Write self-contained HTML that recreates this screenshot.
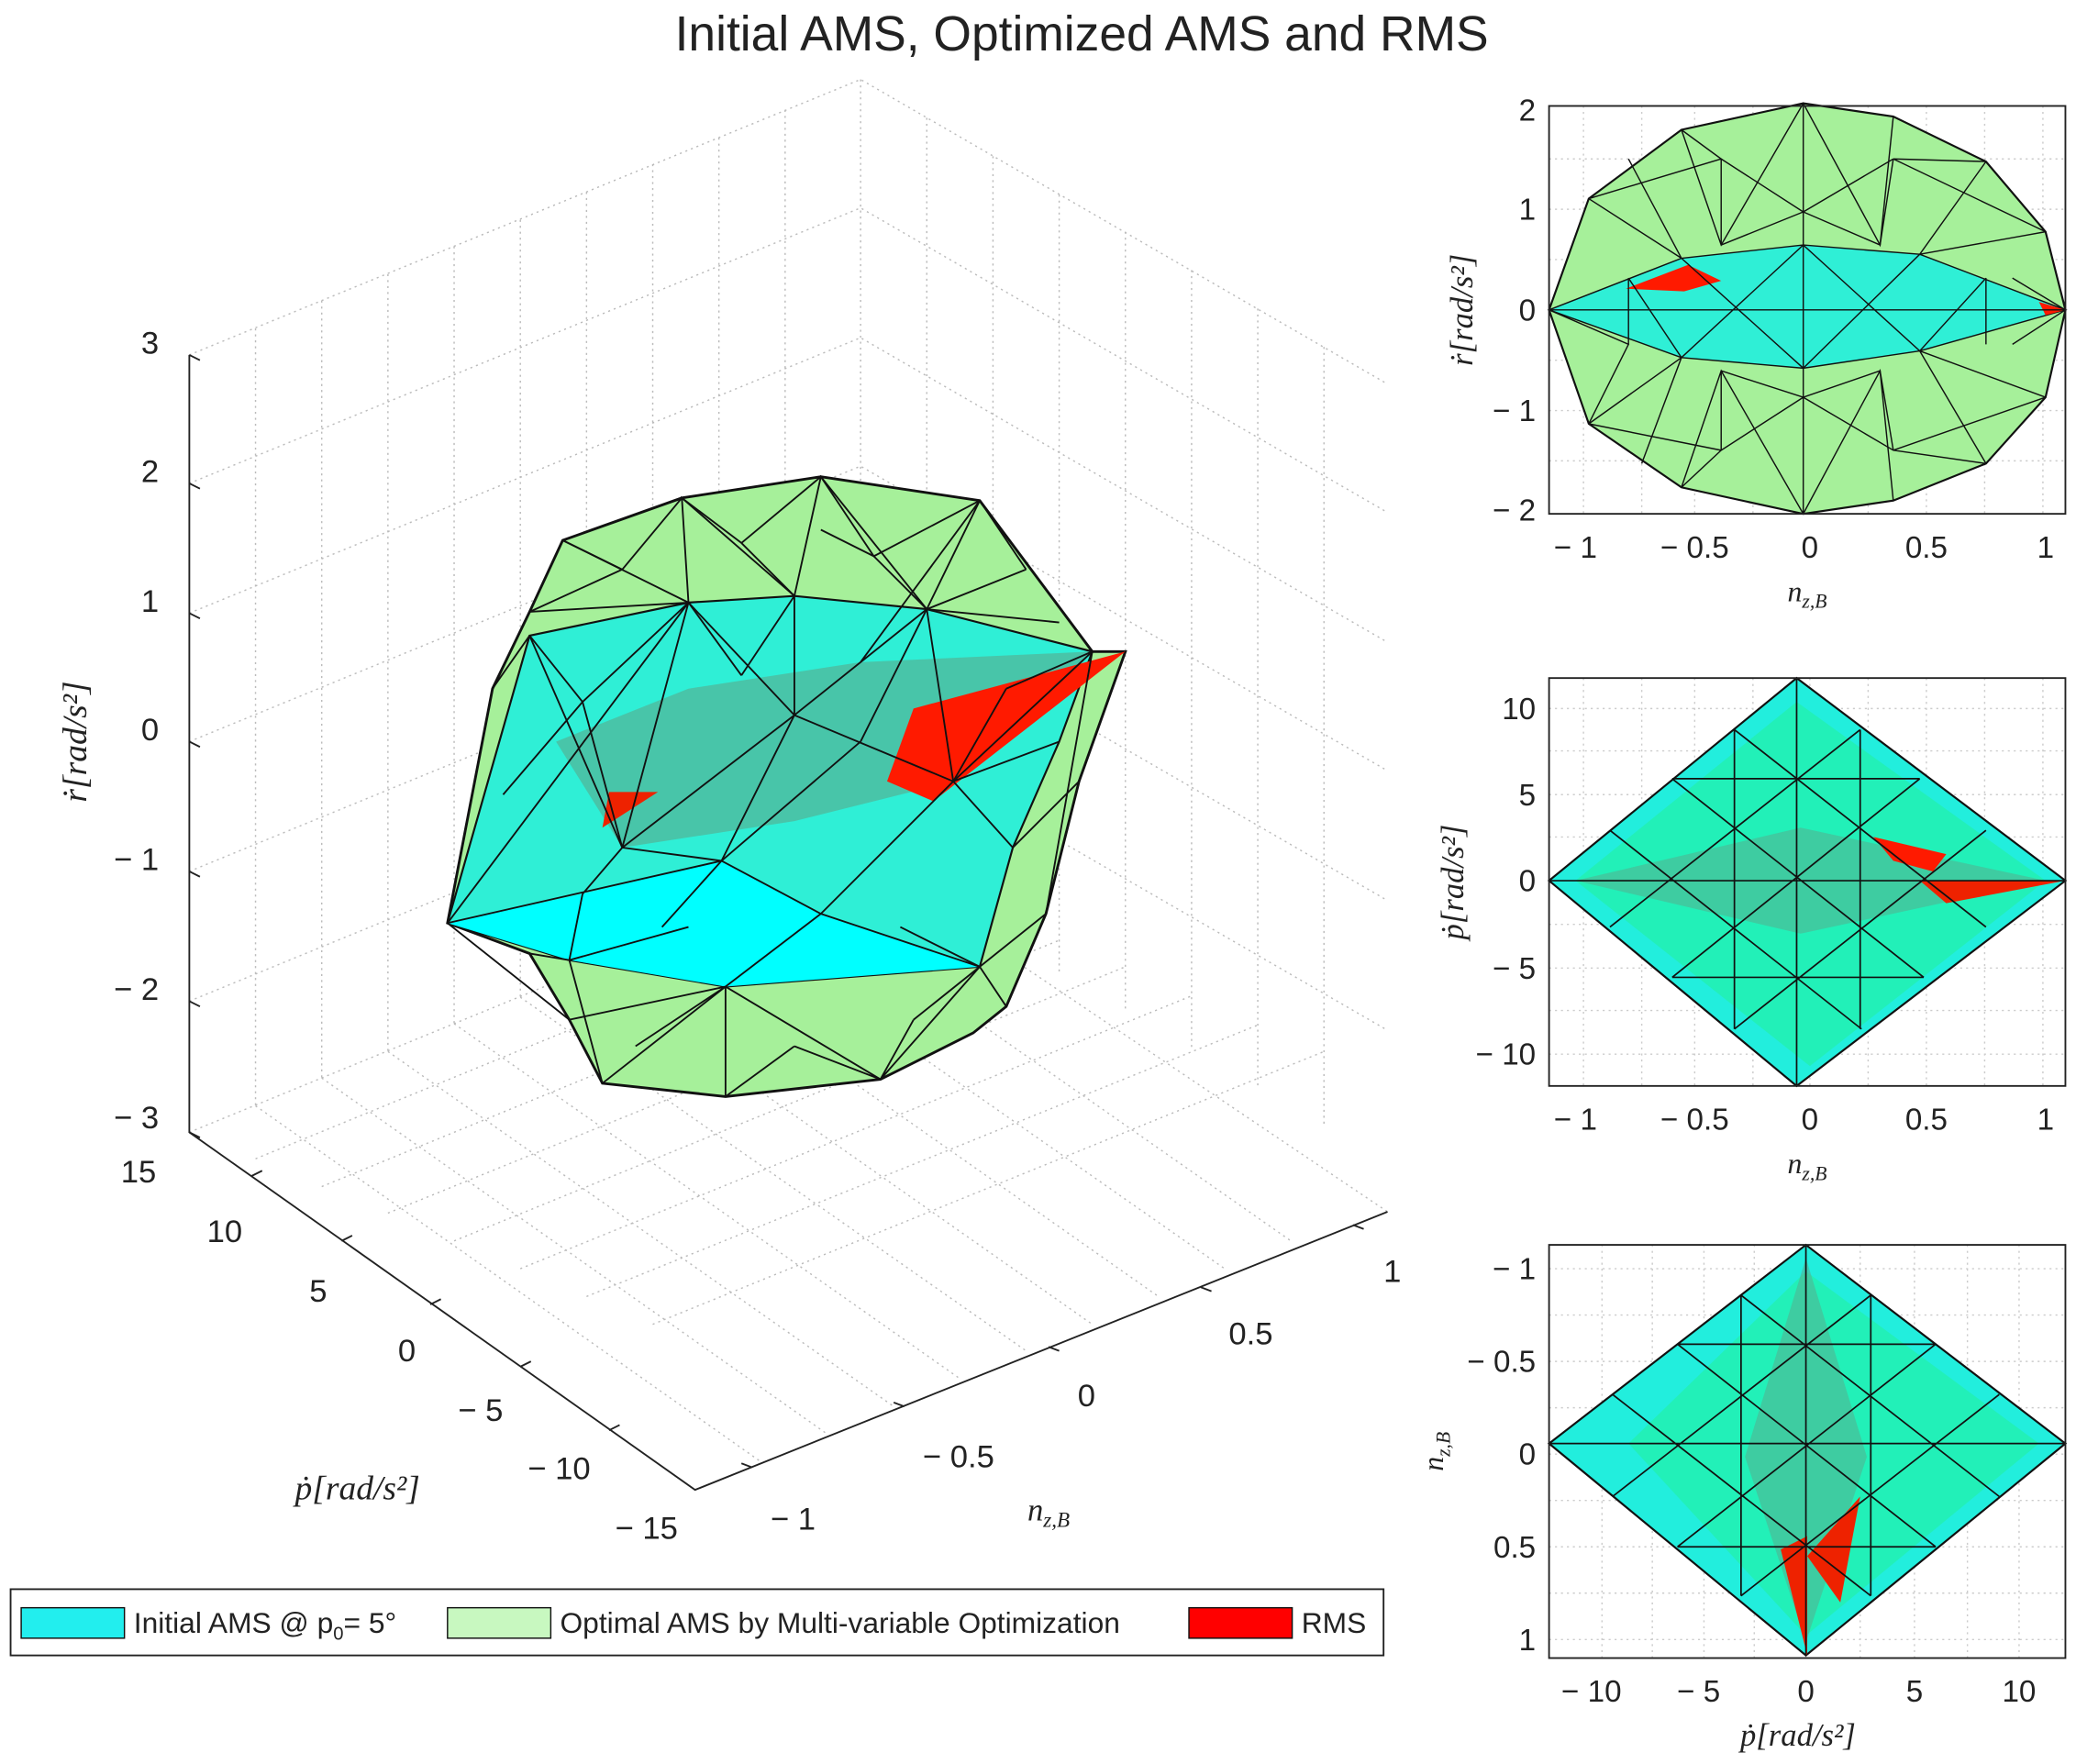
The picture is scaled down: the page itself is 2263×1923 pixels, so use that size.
<!DOCTYPE html>
<html><head><meta charset="utf-8"><style>
html,body{margin:0;padding:0;background:#fff}
svg{display:block}
text{font-family:"Liberation Sans",sans-serif;fill:#222}
.it{font-family:"Liberation Serif",serif;font-style:italic}
</style></head><body>
<svg width="2263" height="1923" viewBox="0 0 1568 1332" preserveAspectRatio="none" xmlns="http://www.w3.org/2000/svg">
<rect width="1568" height="1332" fill="#fff"/>
<text x="817" y="38" font-size="37" text-anchor="middle">Initial AMS, Optimized AMS and RMS</text>

<g stroke="#bbb" stroke-width="1" stroke-dasharray="1.5,3" fill="none">
<path d="M143,268 L650,60 L1048,290"/>
<path d="M650,60 L650,647"/>
<path d="M143,855 L650,647 L1048,915"/>
<path d="M143,365 L650,157 L1048,387 M143,463 L650,255 L1048,485 M143,560 L650,352 L1048,582 M143,658 L650,450 L1048,680 M143,756 L650,548 L1048,778"/>
<path d="M193,248 L193,835 M243,227 L243,814 M293,207 L293,794 M343,186 L343,773 M393,166 L393,753 M443,145 L443,732 M493,124 L493,711 M543,104 L543,691 M593,83 L593,670"/>
<path d="M700,89 L700,676 M750,118 L750,705 M800,147 L800,734 M850,175 L850,762 M900,204 L900,791 M950,233 L950,820 M1000,262 L1000,849"/>
<path d="M193,875 L700,667 M243,896 L750,688 M293,916 L800,710 M343,937 L850,730 M393,958 L900,752 M443,979 L950,774 M493,1000 L1000,794"/>
<path d="M193,835 L575,1104 M243,814 L625,1083 M293,794 L675,1062 M343,773 L725,1041 M393,753 L775,1020 M443,732 L825,1000 M493,711 L875,979 M543,691 L925,958 M593,670 L975,937"/>
</g>
<g stroke="#222" stroke-width="1.3" fill="none">
<path d="M143,268 L143,855 L525,1125 L1048,915"/>
<path d="M143,268 l8,4 M143,365 l8,4 M143,463 l8,4 M143,560 l8,4 M143,658 l8,4 M143,756 l8,4 M143,855 l8,4"/>
<path d="M190,888 l8,-4 M258,937 l8,-4 M325,985 l8,-4 M393,1032 l8,-4 M460,1080 l8,-4"/>
<path d="M568,1108 l-8,-3 M683,1062 l-8,-3 M800,1020 l-8,-3 M915,975 l-8,-3 M1030,928 l-8,-3"/>
</g>
<g font-size="24" text-anchor="end">
<text x="120" y="267">3</text><text x="120" y="364">2</text><text x="120" y="462">1</text><text x="120" y="559">0</text>
<text x="120" y="657">− 1</text><text x="120" y="755">− 2</text><text x="120" y="852">− 3</text>
<text x="118" y="893">15</text><text x="183" y="938">10</text><text x="247" y="983">5</text><text x="314" y="1028">0</text>
<text x="380" y="1073">− 5</text><text x="446" y="1117">− 10</text><text x="512" y="1162">− 15</text>
</g>
<g font-size="24">
<text x="582" y="1155">− 1</text><text x="697" y="1108">− 0.5</text><text x="814" y="1062">0</text><text x="928" y="1015">0.5</text><text x="1045" y="968">1</text>
</g>
<text class="it" x="65" y="560" font-size="26" transform="rotate(-90 65 560)" text-anchor="middle">ṙ[rad/s²]</text>
<text class="it" x="270" y="1132" font-size="26" text-anchor="middle">ṗ[rad/s²]</text>
<text class="it" x="792" y="1148" font-size="24" text-anchor="middle">n<tspan font-size="16" dy="5">z,B</tspan></text>

<polygon points="338,697 372,520 400,462 425,408 515,376 620,360 740,378 825,492 850,492 815,590 790,690 760,760 735,780 665,815 548,828 455,818 430,770 400,720" fill="#a6f09a" stroke="#111" stroke-width="2"/>
<polygon points="338,697 400,480 520,455 600,450 700,460 825,492 800,560 765,640 740,730 548,745 430,725" fill="#22eedd" fill-opacity="0.9" stroke="#111" stroke-width="1.5"/>
<polygon points="420,560 520,520 650,500 825,492 720,590 600,620 470,640" fill="#5aa88a" fill-opacity="0.6"/>
<polygon points="338,697 440,675 545,650 620,690 740,730 548,745 430,725" fill="#00ffff"/>
<polygon points="690,535 850,492 705,605 670,590" fill="#ff1a00"/>
<polygon points="460,598 497,598 455,625" fill="#ee2200"/>
<g stroke="#111" stroke-width="1.3" fill="none">
<path d="M338,697 L520,455 L600,540 L545,650 L338,697 M520,455 L470,640 M600,450 L600,540 L700,460 M700,460 L720,590 L825,492 M600,540 L720,590 L620,690 M545,650 L620,690 L740,730 M440,675 L470,640 L545,650 M400,480 L470,640 M425,408 L520,455 L515,376 L600,450 L620,360 L700,460 L740,378 M372,520 L400,480 M400,462 L520,455 M765,640 L720,590 M800,560 L720,590 M620,690 L548,745 M440,675 L430,725 M740,730 L790,690 M740,730 L760,760 M548,745 L548,828 M430,725 L455,818 M548,745 L665,815 L740,730 M455,818 L548,745 M430,770 L548,745 M338,697 L430,770 M400,720 L430,725 M650,500 L740,378 M470,640 L600,540 M545,650 L600,540 M825,492 L790,690 M815,590 L765,640"/>
<path d="M425,408 L470,430 L515,376 M470,430 L400,462 M560,410 L620,360 L660,420 L740,378 M560,410 L515,376 M660,420 L700,460 M560,410 L600,450 M620,400 L660,420 M775,430 L700,460 M775,430 L740,378 M800,470 L700,460 M440,530 L520,455 M440,530 L400,480 M440,530 L470,640 M380,600 L440,530 M560,510 L600,450 M560,510 L520,455 M650,560 L700,460 M650,560 L545,650 M760,520 L825,492 M760,520 L720,590 M480,790 L548,745 M600,790 L548,828 M600,790 L665,815 M690,770 L740,730 M690,770 L665,815 M500,700 L545,650 M680,700 L740,730 M520,700 L430,725"/>
</g>

<rect x="8" y="1200" width="1037" height="50" fill="#fff" stroke="#222" stroke-width="1.3"/>
<rect x="16" y="1214" width="78" height="23" fill="#22eeee" stroke="#111"/>
<text x="101" y="1233" font-size="22">Initial AMS @ p<tspan font-size="14" dy="5">0</tspan><tspan dy="-5">= 5°</tspan></text>
<rect x="338" y="1214" width="78" height="23" fill="#c8f8c0" stroke="#111"/>
<text x="423" y="1233" font-size="22">Optimal AMS by Multi-variable Optimization</text>
<rect x="898" y="1214" width="78" height="23" fill="#ff0000" stroke="#111"/>
<text x="983" y="1233" font-size="22">RMS</text>

<g stroke="#ccc" stroke-dasharray="1.5,3" fill="none">
<path d="M1170,120 H1560 M1170,158 H1560 M1170,196 H1560 M1170,234 H1560 M1170,272 H1560 M1170,310 H1560 M1170,348 H1560 M1196,80 V388 M1240,80 V388 M1280,80 V388 M1324,80 V388 M1367,80 V388 M1411,80 V388 M1455,80 V388 M1499,80 V388 M1543,80 V388"/>
<path d="M1170,535 H1560 M1170,567 H1560 M1170,600 H1560 M1170,632 H1560 M1170,665 H1560 M1170,698 H1560 M1170,731 H1560 M1170,763 H1560 M1170,796 H1560 M1196,512 V820 M1240,512 V820 M1280,512 V820 M1324,512 V820 M1367,512 V820 M1411,512 V820 M1455,512 V820 M1499,512 V820 M1543,512 V820"/>
<path d="M1170,958 H1560 M1170,993 H1560 M1170,1028 H1560 M1170,1063 H1560 M1170,1098 H1560 M1170,1133 H1560 M1170,1168 H1560 M1170,1203 H1560 M1170,1238 H1560 M1210,940 V1252 M1248,940 V1252 M1287,940 V1252 M1325,940 V1252 M1364,940 V1252 M1405,940 V1252 M1446,940 V1252 M1486,940 V1252 M1525,940 V1252"/>
</g>

<polygon points="1170,234 1200,150 1270,98 1362,78 1430,88 1500,122 1545,175 1560,234 1545,300 1500,350 1430,378 1362,388 1270,368 1200,320" fill="#a6f09a" stroke="#111" stroke-width="1.5"/>
<polygon points="1170,234 1270,195 1362,185 1450,192 1560,234 1450,265 1362,278 1270,270" fill="#22eedd" fill-opacity="0.9" stroke="#111"/>
<polygon points="1228,218 1275,200 1300,212 1272,220" fill="#ff1a00"/>
<polygon points="1540,228 1560,234 1545,238" fill="#ff1a00"/>
<g stroke="#111" stroke-width="1" fill="none">
<path d="M1362,78 L1362,388 M1270,98 L1300,185 L1362,78 L1420,185 L1430,88 M1200,150 L1270,195 L1230,120 M1500,122 L1450,192 M1545,175 L1450,192 M1170,234 L1560,234 M1270,195 L1362,278 L1450,192 M1270,270 L1362,185 L1450,265 M1200,320 L1270,270 L1240,350 M1500,350 L1450,265 M1362,388 L1300,280 L1270,368 M1430,378 L1420,280 L1362,388 M1545,300 L1450,265 M1300,120 L1362,160 L1430,120"/>
<path d="M1200,150 L1300,120 L1270,98 M1430,120 L1500,122 M1430,120 L1545,175 M1300,120 L1300,185 M1430,120 L1420,185 M1200,320 L1300,340 L1270,368 M1300,340 L1362,300 L1430,340 L1500,350 M1430,340 L1545,300 M1300,340 L1300,280 M1430,340 L1420,280 M1362,160 L1300,185 M1362,160 L1420,185 M1362,300 L1300,280 M1362,300 L1420,280 M1200,150 L1170,234 M1200,320 L1230,260 L1170,234 M1520,210 L1560,234 M1520,260 L1560,234 M1230,210 L1270,270 M1500,210 L1450,265 M1230,210 L1230,260 M1500,210 L1500,260"/>
</g>
<rect x="1170" y="80" width="390" height="308" fill="none" stroke="#222" stroke-width="1.3"/>
<g font-size="23" text-anchor="end">
<text x="1160" y="91">2</text><text x="1160" y="166">1</text><text x="1160" y="242">0</text><text x="1160" y="318">− 1</text><text x="1160" y="393">− 2</text>
</g>
<g font-size="23" text-anchor="middle">
<text x="1190" y="421">− 1</text><text x="1280" y="421">− 0.5</text><text x="1367" y="421">0</text><text x="1455" y="421">0.5</text><text x="1545" y="421">1</text>
</g>
<text class="it" x="1365" y="454" font-size="22" text-anchor="middle">n<tspan font-size="15" dy="5">z,B</tspan></text>
<text class="it" x="1112" y="234" font-size="24" transform="rotate(-90 1112 234)" text-anchor="middle">ṙ[rad/s²]</text>

<polygon points="1357,512 1560,665 1357,820 1170,665" fill="#22eedd" stroke="#111" stroke-width="1.5"/>
<polygon points="1357,530 1545,665 1367,805 1190,665" fill="#22f0b8"/>
<polygon points="1190,665 1360,625 1545,665 1360,705" fill="#5aa88a" fill-opacity="0.5"/>
<polygon points="1415,632 1470,645 1460,658 1430,650" fill="#ff1a00"/>
<polygon points="1450,665 1560,665 1470,682" fill="#ee2200"/>
<g stroke="#111" stroke-width="1.2" fill="none">
<path d="M1263,588 L1453,738 M1310,551 L1500,700 M1216,627 L1406,777 M1450,588 L1263,738 M1405,551 L1216,700 M1500,627 L1310,777 M1170,665 L1560,665 M1357,512 L1357,820 M1310,551 L1310,777 M1405,551 L1405,777 M1263,588 L1450,588 M1263,738 L1453,738"/>
</g>
<rect x="1170" y="512" width="390" height="308" fill="none" stroke="#222" stroke-width="1.3"/>
<g font-size="23" text-anchor="end">
<text x="1160" y="543">10</text><text x="1160" y="608">5</text><text x="1160" y="673">0</text><text x="1160" y="739">− 5</text><text x="1160" y="804">− 10</text>
</g>
<g font-size="23" text-anchor="middle">
<text x="1190" y="853">− 1</text><text x="1280" y="853">− 0.5</text><text x="1367" y="853">0</text><text x="1455" y="853">0.5</text><text x="1545" y="853">1</text>
</g>
<text class="it" x="1365" y="886" font-size="22" text-anchor="middle">n<tspan font-size="15" dy="5">z,B</tspan></text>
<text class="it" x="1105" y="666" font-size="24" transform="rotate(-90 1105 666)" text-anchor="middle">ṗ[rad/s²]</text>

<polygon points="1364,940 1560,1090 1364,1250 1170,1090" fill="#22eedd" stroke="#111" stroke-width="1.5"/>
<polygon points="1364,960 1540,1090 1364,1235 1230,1090" fill="#22f0b8"/>
<polygon points="1364,950 1410,1100 1364,1240 1318,1100" fill="#5aa88a" fill-opacity="0.5"/>
<polygon points="1345,1170 1365,1160 1365,1250" fill="#ee2200"/>
<polygon points="1365,1175 1405,1130 1390,1210" fill="#ee2200"/>
<g stroke="#111" stroke-width="1.2" fill="none">
<path d="M1267,1015 L1462,1168 M1315,978 L1510,1130 M1218,1053 L1413,1205 M1462,1015 L1267,1168 M1413,978 L1218,1130 M1510,1053 L1315,1205 M1170,1090 L1560,1090 M1364,940 L1364,1250 M1315,978 L1315,1205 M1413,978 L1413,1205 M1267,1015 L1462,1015 M1267,1168 L1462,1168"/>
</g>
<rect x="1170" y="940" width="390" height="312" fill="none" stroke="#222" stroke-width="1.3"/>
<g font-size="23" text-anchor="end">
<text x="1160" y="966">− 1</text><text x="1160" y="1036">− 0.5</text><text x="1160" y="1106">0</text><text x="1160" y="1176">0.5</text><text x="1160" y="1246">1</text>
</g>
<g font-size="23" text-anchor="middle">
<text x="1202" y="1285">− 10</text><text x="1283" y="1285">− 5</text><text x="1364" y="1285">0</text><text x="1446" y="1285">5</text><text x="1525" y="1285">10</text>
</g>
<text class="it" x="1358" y="1318" font-size="24" text-anchor="middle">ṗ[rad/s²]</text>
<text class="it" x="1090" y="1096" font-size="22" transform="rotate(-90 1090 1096)" text-anchor="middle">n<tspan font-size="15" dy="5">z,B</tspan></text>
</svg>
</body></html>
